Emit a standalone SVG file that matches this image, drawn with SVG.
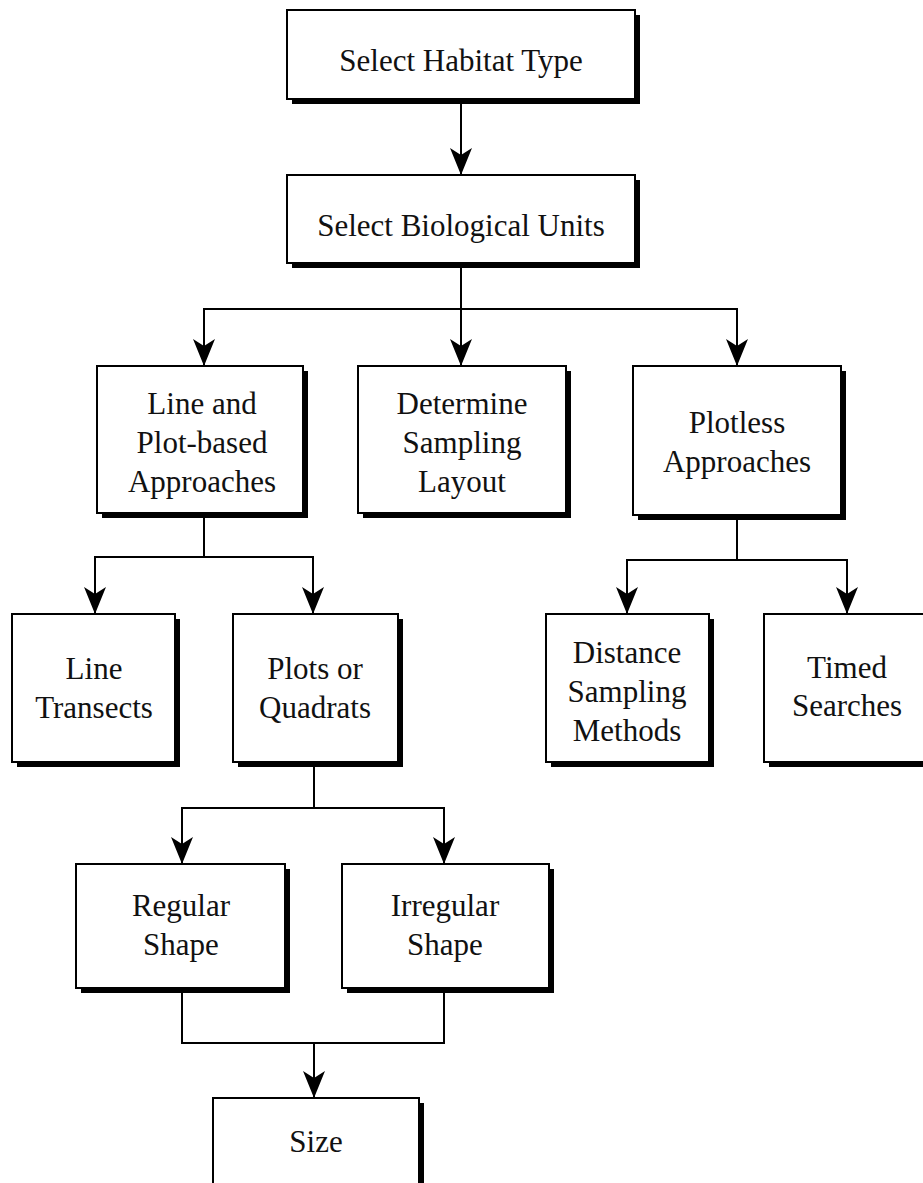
<svg xmlns="http://www.w3.org/2000/svg" width="923" height="1183" viewBox="0 0 923 1183">
  <style>
    .box { fill: #fff; stroke: #000; stroke-width: 2; }
    .shadow { fill: #000; }
    .label { font-family: "Liberation Serif", "Times New Roman", serif; font-size: 31px; fill: #111; text-anchor: middle; }
    .wire { fill: none; stroke: #000; stroke-width: 2; }
  </style>
  <defs>
    <!-- barbed arrowhead pointing along +x, tip at the path end -->
    <marker id="head" markerUnits="userSpaceOnUse" markerWidth="30" markerHeight="26" viewBox="-28 -13 30 26" refX="0" refY="0" orient="auto-start-reverse">
      <path d="M0,0 L-27,-11 L-20,0 L-27,11 Z" fill="#000"/>
    </marker>
  </defs>
  <rect width="923" height="1183" fill="#fff"/>

  <!-- connectors -->
  <g id="connectors">
    <path class="wire" d="M461,99 V175" marker-end="url(#head)"/>
    <path class="wire" d="M461,263 V366" marker-end="url(#head)"/>
    <path class="wire" d="M204,366 V309 H737 V366" marker-end="url(#head)" marker-start="url(#head)"/>
    <path class="wire" d="M204,513 V557"/>
    <path class="wire" d="M95,614 V557 H313 V614" marker-end="url(#head)" marker-start="url(#head)"/>
    <path class="wire" d="M737,515 V560"/>
    <path class="wire" d="M627,614 V560 H847 V614" marker-end="url(#head)" marker-start="url(#head)"/>
    <path class="wire" d="M314,762 V808"/>
    <path class="wire" d="M182,864 V808 H444 V864" marker-end="url(#head)" marker-start="url(#head)"/>
    <path class="wire" d="M182,988 V1043 H444 V988"/>
    <path class="wire" d="M314,1043 V1098" marker-end="url(#head)"/>
  </g>

  <g id="habitat">
    <rect class="shadow" x="292" y="15" width="348" height="89"/>
    <rect class="box" x="287" y="10" width="348" height="89"/>
    <text class="label" x="461" y="71">Select Habitat Type</text>
  </g>

  <g id="biological">
    <rect class="shadow" x="292" y="180" width="348" height="88"/>
    <rect class="box" x="287" y="175" width="348" height="88"/>
    <text class="label" x="461" y="236">Select Biological Units</text>
  </g>

  <g id="line-plot">
    <rect class="shadow" x="102" y="371" width="206" height="147"/>
    <rect class="box" x="97" y="366" width="206" height="147"/>
    <text class="label" x="202" y="414">Line and</text>
    <text class="label" x="202" y="453">Plot-based</text>
    <text class="label" x="202" y="492">Approaches</text>
  </g>

  <g id="layout">
    <rect class="shadow" x="363" y="371" width="208" height="147"/>
    <rect class="box" x="358" y="366" width="208" height="147"/>
    <text class="label" x="462" y="414">Determine</text>
    <text class="label" x="462" y="453">Sampling</text>
    <text class="label" x="462" y="492">Layout</text>
  </g>

  <g id="plotless">
    <rect class="shadow" x="638" y="371" width="208" height="149"/>
    <rect class="box" x="633" y="366" width="208" height="149"/>
    <text class="label" x="737" y="433">Plotless</text>
    <text class="label" x="737" y="472">Approaches</text>
  </g>

  <g id="transects">
    <rect class="shadow" x="17" y="619" width="163" height="148"/>
    <rect class="box" x="12" y="614" width="163" height="148"/>
    <text class="label" x="94" y="679">Line</text>
    <text class="label" x="94" y="718">Transects</text>
  </g>

  <g id="quadrats">
    <rect class="shadow" x="238" y="619" width="165" height="148"/>
    <rect class="box" x="233" y="614" width="165" height="148"/>
    <text class="label" x="315" y="679">Plots or</text>
    <text class="label" x="315" y="718">Quadrats</text>
  </g>

  <g id="distance">
    <rect class="shadow" x="551" y="619" width="163" height="148"/>
    <rect class="box" x="546" y="614" width="163" height="148"/>
    <text class="label" x="627" y="663">Distance</text>
    <text class="label" x="627" y="702">Sampling</text>
    <text class="label" x="627" y="741">Methods</text>
  </g>

  <g id="timed">
    <rect class="shadow" x="769" y="619" width="170" height="148"/>
    <rect class="box" x="764" y="614" width="170" height="148"/>
    <text class="label" x="847" y="678">Timed</text>
    <text class="label" x="847" y="716">Searches</text>
  </g>

  <g id="regular">
    <rect class="shadow" x="81" y="869" width="209" height="124"/>
    <rect class="box" x="76" y="864" width="209" height="124"/>
    <text class="label" x="181" y="916">Regular</text>
    <text class="label" x="181" y="955">Shape</text>
  </g>

  <g id="irregular">
    <rect class="shadow" x="347" y="869" width="207" height="124"/>
    <rect class="box" x="342" y="864" width="207" height="124"/>
    <text class="label" x="445" y="916">Irregular</text>
    <text class="label" x="445" y="955">Shape</text>
  </g>

  <g id="size">
    <rect class="shadow" x="218" y="1103" width="206" height="100"/>
    <rect class="box" x="213" y="1098" width="206" height="100"/>
    <text class="label" x="316" y="1152">Size</text>
  </g>
</svg>
